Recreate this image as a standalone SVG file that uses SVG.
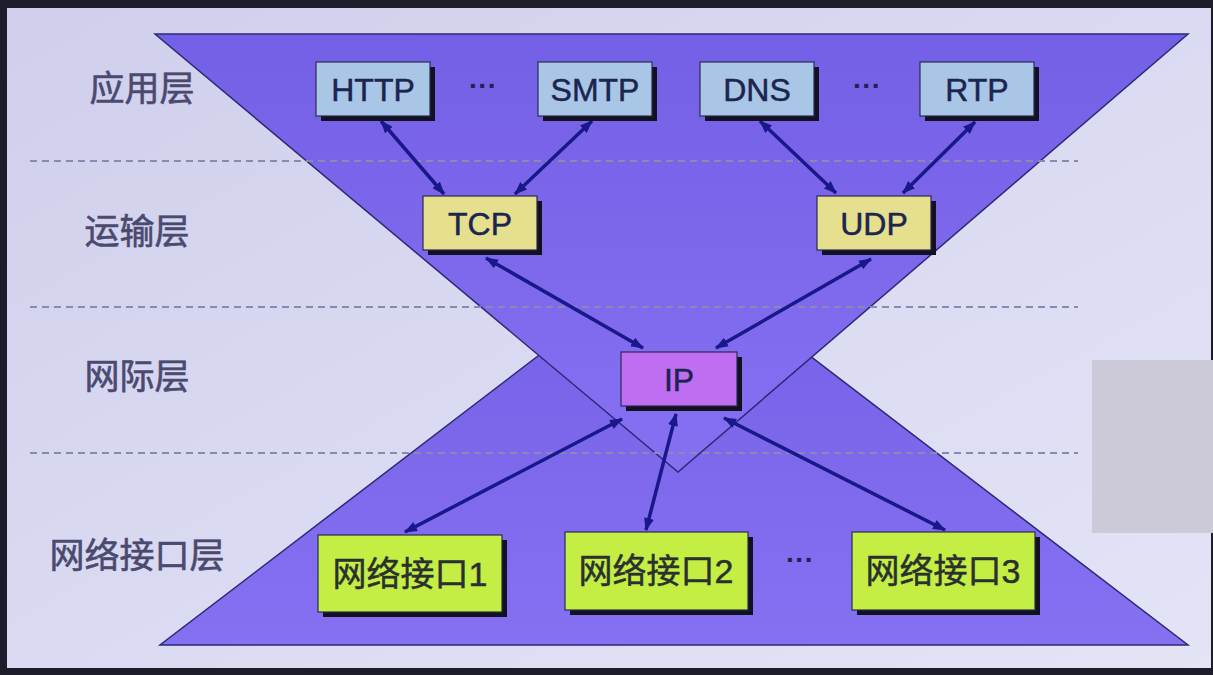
<svg xmlns="http://www.w3.org/2000/svg" width="1213" height="675" viewBox="0 0 1213 675">
<defs>
<linearGradient id="bg" x1="0" y1="0" x2="1" y2="1">
<stop offset="0" stop-color="#cfcfec"/>
<stop offset="1" stop-color="#e4e4f7"/>
</linearGradient>
<linearGradient id="tri" x1="0" y1="0" x2="0" y2="1">
<stop offset="0" stop-color="#7460e6"/>
<stop offset="1" stop-color="#8670f2"/>
</linearGradient>
<marker id="ah" viewBox="0 0 13 10" refX="12" refY="5" markerWidth="13" markerHeight="10" markerUnits="userSpaceOnUse" orient="auto-start-reverse">
<path d="M0,0 L13,5 L0,10 Z" fill="#18188a"/>
</marker>
</defs>
<style>
.layer{font-family:"Liberation Sans","Noto Sans CJK SC",sans-serif;font-size:35px;fill:#4a4a70;stroke:#4a4a70;stroke-width:0.6;text-anchor:middle}
.lbl{font-family:"Liberation Sans","Noto Sans CJK SC",sans-serif;font-size:32px;fill:#1c2450;stroke:#1c2450;stroke-width:0.5;text-anchor:middle}
.ni{font-family:"Liberation Sans","Noto Sans CJK SC",sans-serif;font-size:34px;fill:#2a3030;stroke:#2a3030;stroke-width:0.5;text-anchor:middle}
.dots{font-family:"Liberation Sans",sans-serif;font-size:28px;font-weight:bold;fill:#1c2450;text-anchor:middle}
.shadow{fill:#111122}
.box{stroke:#2a2a50;stroke-width:1.2}
.app{fill:#a9c6e6}
.tr{fill:#e6e08e}
.ip{fill:#bf6ef2}
.nif{fill:#c4ee44}
.dash{stroke:#8a8ab0;stroke-width:2;stroke-dasharray:7,5;fill:none}
.conn{stroke:#18188a;stroke-width:3.5;fill:none;marker-start:url(#ah);marker-end:url(#ah)}
</style>
<rect x="0" y="0" width="1213" height="675" fill="#1c1c2a"/>
<rect x="7" y="8" width="1204" height="660" fill="url(#bg)"/>
<g id="shapes">
<polygon points="160,645 1188,645 674,252" fill="url(#tri)" stroke="#2a2a78" stroke-width="1.5"/>
<polygon points="155,34 1188,34 678,472" fill="url(#tri)" stroke="#2a2a78" stroke-width="1.5"/>
<rect x="1092" y="360" width="121" height="173" fill="#cccad8"/>
</g>
<g id="dividers">
<line class="dash" x1="30" y1="161" x2="1078" y2="161"/>
<line class="dash" x1="30" y1="307" x2="1078" y2="307"/>
<line class="dash" x1="30" y1="453" x2="1078" y2="453"/>
</g>
<g id="layer-labels">
<text class="layer" x="142" y="101">应用层</text>
<text class="layer" x="137" y="244">运输层</text>
<text class="layer" x="137" y="389">网际层</text>
<text class="layer" x="137" y="568">网络接口层</text>
</g>
<g id="connectors">
<line class="conn" x1="381" y1="121" x2="444" y2="194"/>
<line class="conn" x1="592" y1="121" x2="515" y2="194"/>
<line class="conn" x1="760" y1="121" x2="836" y2="193"/>
<line class="conn" x1="975" y1="122" x2="903" y2="193"/>
<line class="conn" x1="486" y1="258" x2="643" y2="348"/>
<line class="conn" x1="871" y1="259" x2="716" y2="348"/>
<line class="conn" x1="622" y1="419" x2="405" y2="532"/>
<line class="conn" x1="676" y1="414" x2="646" y2="530"/>
<line class="conn" x1="724" y1="418" x2="945" y2="530"/>
</g>
<g id="node-http">
<rect class="shadow" x="321" y="67" width="114" height="54"/>
<rect class="box app" x="316" y="62" width="114" height="54"/>
<text class="lbl" x="373" y="101">HTTP</text>
</g>
<text class="dots" x="483" y="95">···</text>
<g id="node-smtp">
<rect class="shadow" x="543" y="67" width="114" height="54"/>
<rect class="box app" x="538" y="62" width="114" height="54"/>
<text class="lbl" x="595" y="101">SMTP</text>
</g>
<g id="node-dns">
<rect class="shadow" x="705" y="67" width="114" height="54"/>
<rect class="box app" x="700" y="62" width="114" height="54"/>
<text class="lbl" x="757" y="101">DNS</text>
</g>
<text class="dots" x="867" y="95">···</text>
<g id="node-rtp">
<rect class="shadow" x="925" y="67" width="114" height="54"/>
<rect class="box app" x="920" y="62" width="114" height="54"/>
<text class="lbl" x="977" y="101">RTP</text>
</g>
<g id="node-tcp">
<rect class="shadow" x="428" y="201" width="114" height="54"/>
<rect class="box tr" x="423" y="196" width="114" height="54"/>
<text class="lbl" x="480" y="235">TCP</text>
</g>
<g id="node-udp">
<rect class="shadow" x="822" y="201" width="114" height="54"/>
<rect class="box tr" x="817" y="196" width="114" height="54"/>
<text class="lbl" x="874" y="235">UDP</text>
</g>
<g id="node-ip">
<rect class="shadow" x="626" y="357" width="116" height="54"/>
<rect class="box ip" x="621" y="352" width="116" height="54"/>
<text class="lbl" x="679" y="391">IP</text>
</g>
<g id="node-ni1">
<rect class="shadow" x="323" y="540" width="184" height="77"/>
<rect class="box nif" x="318" y="535" width="184" height="77"/>
<text class="ni" x="410" y="586">网络接口1</text>
</g>
<g id="node-ni2">
<rect class="shadow" x="570" y="537" width="183" height="78"/>
<rect class="box nif" x="565" y="532" width="183" height="78"/>
<text class="ni" x="656" y="583">网络接口2</text>
</g>
<text class="dots" x="800" y="569">···</text>
<g id="node-ni3">
<rect class="shadow" x="857" y="537" width="183" height="78"/>
<rect class="box nif" x="852" y="532" width="183" height="78"/>
<text class="ni" x="943" y="583">网络接口3</text>
</g>
</svg>
